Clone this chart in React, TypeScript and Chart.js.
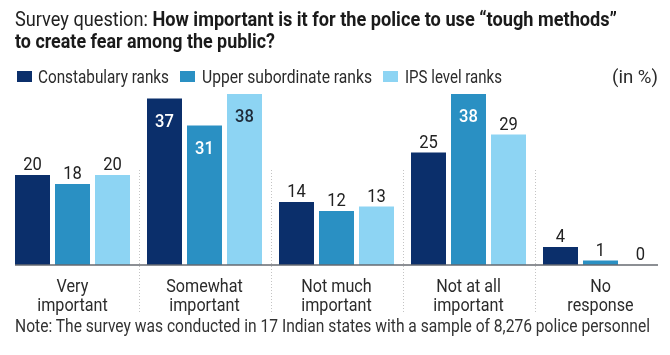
import React, { useEffect, useLayoutEffect, useRef } from "react";
import { Chart, registerables } from "chart.js";

Chart.register(...registerables);

// ---- data ----
const categories: string[][] = [
  ["Very", "important"],
  ["Somewhat", "important"],
  ["Not much", "important"],
  ["Not at all", "important"],
  ["No", "response"],
];
const seriesNames = ["Constabulary ranks", "Upper subordinate ranks", "IPS level ranks"];
const constabulary = [20, 37, 14, 25, 4];
const upperSubordinate = [18, 31, 12, 38, 1];
const ipsLevel = [20, 38, 13, 29, 0];
const seriesColors = ["#0b2f6b", "#2a90c3", "#8dd4f3"];

const FONT = "Roboto, 'Noto Sans', sans-serif";
const CONDENSE = 0.85;

const decorPlugin = {
  id: "decor",
  beforeDatasetsDraw(chart: any) {
    const ctx = chart.ctx;
    const xs = chart.scales.x;
    const y0 = chart.scales.y.getPixelForValue(0);
    ctx.save();
    ctx.strokeStyle = "#c4c4c4";
    ctx.lineWidth = 1;
    ctx.setLineDash([1, 2]);
    for (let i = 0; i < categories.length - 1; i++) {
      const x = Math.round((xs.getPixelForValue(i) + xs.getPixelForValue(i + 1)) / 2) + 0.5;
      ctx.beginPath();
      ctx.moveTo(x, y0 - 95);
      ctx.lineTo(x, y0 + 47);
      ctx.stroke();
    }
    ctx.restore();
  },
  afterDatasetsDraw(chart: any) {
    const ctx = chart.ctx;
    const xs = chart.scales.x;
    const y0 = chart.scales.y.getPixelForValue(0);
    const metas = [0, 1, 2].map((i) => chart.getDatasetMeta(i));
    const first = metas[0].data[0];
    const lastMeta = metas[2].data;
    const last = lastMeta[lastMeta.length - 1];
    ctx.save();
    // baseline
    ctx.strokeStyle = "#666a70";
    ctx.lineWidth = 1.5;
    ctx.beginPath();
    ctx.moveTo(first.x - first.width / 2, y0);
    ctx.lineTo(last.x + last.width / 2, y0);
    ctx.stroke();

    // value labels
    ctx.textAlign = "center";
    ctx.textBaseline = "alphabetic";
    metas.forEach((meta, d) => {
      const values = chart.data.datasets[d].data as number[];
      meta.data.forEach((el: any, i: number) => {
        const v = values[i];
        const inside = v >= 30;
        let y: number;
        if (inside) {
          ctx.font = `500 18px ${FONT}`;
          ctx.fillStyle = d === 2 ? "#1d2a38" : "#ffffff";
          y = el.y + 28;
        } else {
          ctx.font = `400 18px ${FONT}`;
          ctx.fillStyle = "#222222";
          y = el.y - 5;
        }
        ctx.save();
        ctx.translate(el.x, y);
        ctx.scale(0.92, 1);
        ctx.fillText(String(v), 0, 0);
        ctx.restore();
      });
    });

    // category labels
    ctx.font = `400 19px ${FONT}`;
    ctx.fillStyle = "#2b2b2b";
    categories.forEach((lines, i) => {
      const cx = xs.getPixelForValue(i);
      lines.forEach((t, k) => {
        ctx.save();
        ctx.translate(cx, y0 + 27 + k * 19);
        ctx.scale(CONDENSE, 1);
        ctx.fillText(t, 0, 0);
        ctx.restore();
      });
    });
    ctx.restore();
  },
};

function Txt(props: {
  x: number;
  baseline: number;
  size: number;
  width: number;
  weight?: number;
  color?: string;
  children: React.ReactNode;
}) {
  const ref = useRef<HTMLSpanElement>(null);
  useLayoutEffect(() => {
    const el = ref.current;
    if (!el) return;
    el.style.transform = "none";
    const w = el.getBoundingClientRect().width;
    if (w > 0) el.style.transform = `scaleX(${props.width / w})`;
  }, []);
  return (
    <span
      ref={ref}
      style={{
        position: "absolute",
        left: props.x,
        top: props.baseline - 0.842 * props.size,
        fontSize: props.size,
        lineHeight: `${props.size}px`,
        whiteSpace: "nowrap",
        transformOrigin: "left top",
        fontWeight: props.weight ?? 400,
        color: props.color ?? "#2b2b2b",
      }}
    >
      {props.children}
    </span>
  );
}

export default function App() {
  const canvasRef = useRef<HTMLCanvasElement>(null);

  useEffect(() => {
    const canvas = canvasRef.current;
    if (!canvas) return;
    const chart = new Chart(canvas, {
      type: "bar",
      data: {
        labels: categories.map((c) => c.join(" ")),
        datasets: [constabulary, upperSubordinate, ipsLevel].map((vals, d) => ({
          label: seriesNames[d],
          data: vals,
          backgroundColor: seriesColors[d],
          borderWidth: 0,
          categoryPercentage: 0.909,
          barPercentage: 0.875,
        })),
      },
      options: {
        responsive: false,
        animation: false,
        layout: { padding: { left: 6.5, right: 3.5, top: 94, bottom: 90 } },
        scales: {
          x: { display: false, offset: true },
          y: { display: false, min: 0, max: 38 },
        },
        plugins: {
          legend: { display: false },
          tooltip: { enabled: false },
          title: { display: false },
        },
      },
      plugins: [decorPlugin],
    });
    return () => chart.destroy();
  }, []);

  const legendX = [17, 180, 383];
  const legendTextX = [38, 202, 405];
  const legendTextW = [131, 170, 97];

  return (
    <div
      style={{
        position: "fixed",
        left: 0,
        top: 0,
        width: 670,
        height: 355,
        background: "#ffffff",
        overflow: "hidden",
        fontFamily: FONT,
      }}
    >
      <canvas ref={canvasRef} width={670} height={355} style={{ position: "absolute", left: 0, top: 0 }} />
      <Txt x={15} baseline={27} size={21} width={602} color="#222">
        Survey question: <b style={{ color: "#1a1a1a" }}>How important is it for the police to use “tough methods”</b>
      </Txt>
      <Txt x={15} baseline={49} size={21} width={260} weight={700} color="#1a1a1a">
        to create fear among the public?
      </Txt>
      {seriesNames.map((name, i) => (
        <React.Fragment key={name}>
          <div
            style={{
              position: "absolute",
              left: legendX[i],
              top: 71,
              width: 15,
              height: 11,
              background: seriesColors[i],
            }}
          />
          <Txt x={legendTextX[i]} baseline={83} size={18} width={legendTextW[i]}>
            {name}
          </Txt>
        </React.Fragment>
      ))}
      <Txt x={612} baseline={83} size={18} width={46}>
        (in %)
      </Txt>
      <Txt x={15} baseline={332} size={19} width={635} color="#333">
        Note: The survey was conducted in 17 Indian states with a sample of 8,276 police personnel
      </Txt>
    </div>
  );
}
